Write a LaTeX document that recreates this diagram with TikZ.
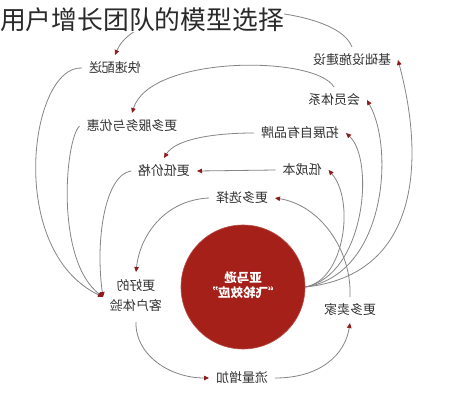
\documentclass[tikz,border=0pt]{standalone}
\usepackage{fontspec}
\setmainfont{Noto Sans CJK SC}
\usetikzlibrary{arrows.meta}
\definecolor{txt}{HTML}{333333}
\definecolor{ttl}{HTML}{2A2A2A}
\definecolor{ln}{HTML}{858585}
\definecolor{arr}{HTML}{8E1B1B}
\definecolor{disc}{HTML}{A52019}
\newcommand{\mirr}[1]{\reflectbox{#1}}
\begin{document}
\begin{tikzpicture}[x=1pt,y=-1pt,
  lbl/.style={text=txt,font=\fontsize{13}{16}\selectfont,inner sep=2pt,outer sep=5pt},
  conn/.style={draw=ln,line width=0.8pt,-{Triangle[length=5pt,width=4.5pt,color=arr]}}]
\useasboundingbox[fill=white] (0,0) rectangle (464,400);

% hub
\node[circle,fill=disc,draw=disc!80!white,line width=0.6pt,minimum size=124pt,inner sep=0pt,
      text=white,font=\bfseries\fontsize{12.5}{13.5}\selectfont] (c) at (243,287)
  {\mirr{\begin{tabular}{@{}c@{}}亚马逊\\“飞轮效应”\end{tabular}}};

% labels
\node[lbl] (jc) at (352,60) {\mirr{基础设施建设}};
\node[lbl] (ks) at (115,68) {\mirr{快速配送}};
\node[lbl] (hy) at (334,100) {\mirr{会员体系}};
\node[lbl] (fw) at (132,126) {\mirr{更多服务与优惠}};
\node[lbl] (tz) at (300,133) {\mirr{拓展自有品牌}};
\node[lbl] (dc) at (302,170) {\mirr{低成本}};
\node[lbl] (dj) at (164,171) {\mirr{更低价格}};
\node[lbl] (xz) at (242,198) {\mirr{更多选择}};
\node[lbl] (ty) at (136,297) {\mirr{\begin{tabular}{@{}c@{}}更好的\\[4pt]客户体验\end{tabular}}};
\node[lbl] (mj) at (350,310) {\mirr{更多卖家}};
\node[lbl] (ll) at (242,378) {\mirr{流量增加}};

% connectors
\draw[conn] (jc.north) .. controls (335,0) and (140,-5) .. (ks.north);
\draw[conn] (hy.north) .. controls (315,55) and (150,55) .. (fw.north);
\draw[conn] (tz.west) .. controls (210,133) and (175,140) .. (dj.north);
\draw[conn] (dc.west) -- (dj.east);
\draw[conn] (ks.west) .. controls (30,65) and (5,250) .. (ty.west);
\draw[conn] (fw.west) .. controls (65,140) and (55,260) .. (ty.west);
\draw[conn] (dj.west) .. controls (105,175) and (95,240) .. (ty.west);
\draw[conn] (xz.west) .. controls (165,200) and (140,235) .. (ty.north);
\draw[conn] (ty.south) .. controls (135,355) and (170,378) .. (ll.west);
\draw[conn] (ll.east) .. controls (320,378) and (345,355) .. (mj.south);
\draw[conn] (mj.north) .. controls (352,250) and (320,205) .. (xz.east);
\draw[conn] (c.east) .. controls (420,275) and (425,160) .. (jc.east);
\draw[conn] (c.east) .. controls (385,275) and (395,150) .. (hy.east);
\draw[conn] (c.east) .. controls (365,275) and (375,160) .. (tz.east);
\draw[conn] (c.east) .. controls (345,280) and (355,200) .. (dc.east);

% title
\node[anchor=west,inner sep=0pt,fill=white,text=ttl,font=\fontsize{25.8}{27}\selectfont] (title) at (0,20) {用户增长团队的模型选择};
\end{tikzpicture}
\end{document}
